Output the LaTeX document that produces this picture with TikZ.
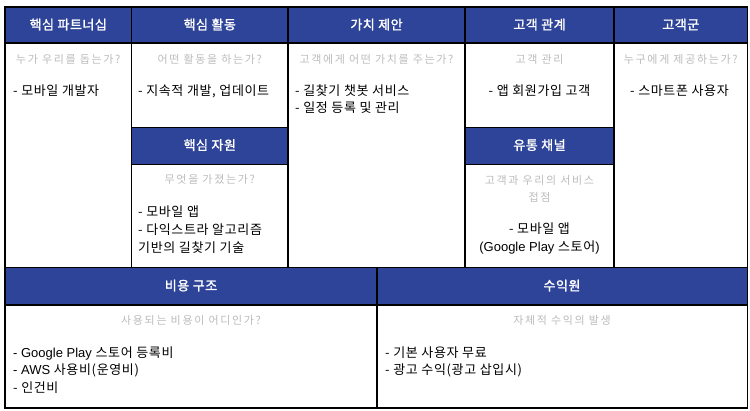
\documentclass[tikz,border=0pt]{standalone}
\usepackage{fontspec}
\setmainfont{Liberation Sans}
\newfontfamily\lat{Liberation Sans}
\newfontfamily\krh[LetterSpace=4,FakeBold=1.6]{Noto Sans CJK KR}
\newfontfamily\krg[LetterSpace=15]{Noto Sans CJK KR}
\newfontfamily\krb[LetterSpace=5]{Noto Sans CJK KR}
\newcommand{\E}[1]{{\lat\fontsize{13}{15}\selectfont #1}}
\definecolor{hdrblue}{RGB}{46,68,152}
\definecolor{qgray}{RGB}{188,188,188}
\tikzset{
  hdrcell/.style={fill=hdrblue, draw=black, line width=1.3pt},
  bodycell/.style={fill=white, draw=black, line width=1.3pt},
  hdrtext/.style={text=white, inner sep=0pt, anchor=base, font=\krh\fontsize{13}{15}\selectfont},
  qtext/.style={text=qgray, inner sep=0pt, anchor=base, font=\krg\fontsize{11}{13}\selectfont},
  btext/.style={text=black, inner sep=0pt, anchor=base west, font=\krb\fontsize{13}{15}\selectfont},
  ctext/.style={text=black, inner sep=0pt, anchor=base, font=\krb\fontsize{13}{15}\selectfont}
}
\begin{document}
\begin{tikzpicture}[x=1pt,y=-1pt]
\useasboundingbox (0,0) rectangle (750,411);
% bodies
\path[bodycell] (5,43) rectangle (131.5,267.3);
\path[bodycell] (131.5,43) rectangle (288,127.3);
\path[bodycell] (131.5,164.3) rectangle (288,267.3);
\path[bodycell] (288,43) rectangle (465,267.3);
\path[bodycell] (465,43) rectangle (614,127.3);
\path[bodycell] (465,164.3) rectangle (614,267.3);
\path[bodycell] (614,43) rectangle (747.5,267.3);
\path[bodycell] (5,305) rectangle (377,408);
\path[bodycell] (377,305) rectangle (747.5,408);
% headers
\path[hdrcell] (5,7) rectangle (131.5,43);
\path[hdrcell] (131.5,7) rectangle (288,43);
\path[hdrcell] (288,7) rectangle (465,43);
\path[hdrcell] (465,7) rectangle (614,43);
\path[hdrcell] (614,7) rectangle (747.5,43);
\path[hdrcell] (131.5,127.3) rectangle (288,164.3);
\path[hdrcell] (465,127.3) rectangle (614,164.3);
\path[hdrcell] (5,267.3) rectangle (377,305);
\path[hdrcell] (377,267.3) rectangle (747.5,305);
% header texts
\node[hdrtext] (hkp) at (68.25,29.4) {핵심 파트너십};
\node[hdrtext] (hka) at (209.75,29.4) {핵심 활동};
\node[hdrtext] (hvp) at (376.5,29.4) {가치 제안};
\node[hdrtext] (hcr) at (539.5,29.4) {고객 관계};
\node[hdrtext] (hcs) at (680.75,29.4) {고객군};
\node[hdrtext] (hkr) at (209.75,149.9) {핵심 자원};
\node[hdrtext] (hch) at (539.5,149.9) {유통 채널};
\node[hdrtext] (hco) at (191,290.4) {비용 구조};
\node[hdrtext] (hrv) at (562,290.4) {수익원};
% questions
\node[qtext] (qkp) at (68.25,63.8) {누가 우리를 돕는가?};
\node[qtext] (qka) at (209.75,63.8) {어떤 활동을 하는가?};
\node[qtext] (qvp) at (376.5,63.8) {고객에게 어떤 가치를 주는가?};
\node[qtext] (qcr) at (539.5,63.8) {고객 관리};
\node[qtext] (qcs) at (680.75,63.8) {누구에게 제공하는가?};
\node[qtext] (qkr) at (209.75,183.8) {무엇을 가졌는가?};
\node[qtext] (qch1) at (539.5,184.8) {고객과 우리의 서비스};
\node[qtext] (qch2) at (539.5,201.5) {접점};
\node[qtext] (qco) at (191,324.8) {사용되는 비용이 어디인가?};
\node[qtext] (qrv) at (562,324.8) {자체적 수익의 발생};
% bodies text
\node[btext] (bkp) at (13,95.1) {- 모바일 개발자};
\node[btext] (bka) at (138,95.1) {- 지속적 개발, 업데이트};
\node[btext] (bvp1) at (295,95.1) {- 길찾기 챗봇 서비스};
\node[btext] (bvp2) at (295,112.7) {- 일정 등록 및 관리};
\node[ctext] (bcr) at (539.5,95.1) {- 앱 회원가입 고객};
\node[ctext] (bcs) at (679.5,95.1) {- 스마트폰 사용자};
\node[btext] (bkr1) at (138,216.4) {- 모바일 앱};
\node[btext] (bkr2) at (138,234.4) {- 다익스트라 알고리즘};
\node[btext] (bkr3) at (138,252.1) {기반의 길찾기 기술};
\node[ctext] (bch1) at (539.5,233.7) {- 모바일 앱};
\node[ctext] (bch2) at (539.5,251.1) {\E{(Google Play }스토어\E{)}};
\node[btext] (bco1) at (13,357.1) {\E{- Google Play }스토어 등록비};
\node[btext] (bco2) at (13,374.4) {\E{- AWS }사용비(운영비)};
\node[btext] (bco3) at (13,392.1) {- 인건비};
\node[btext] (brv1) at (385,357.1) {- 기본 사용자 무료};
\node[btext] (brv2) at (385,374.4) {- 광고 수익(광고 삽입시)};
\end{tikzpicture}
\end{document}
